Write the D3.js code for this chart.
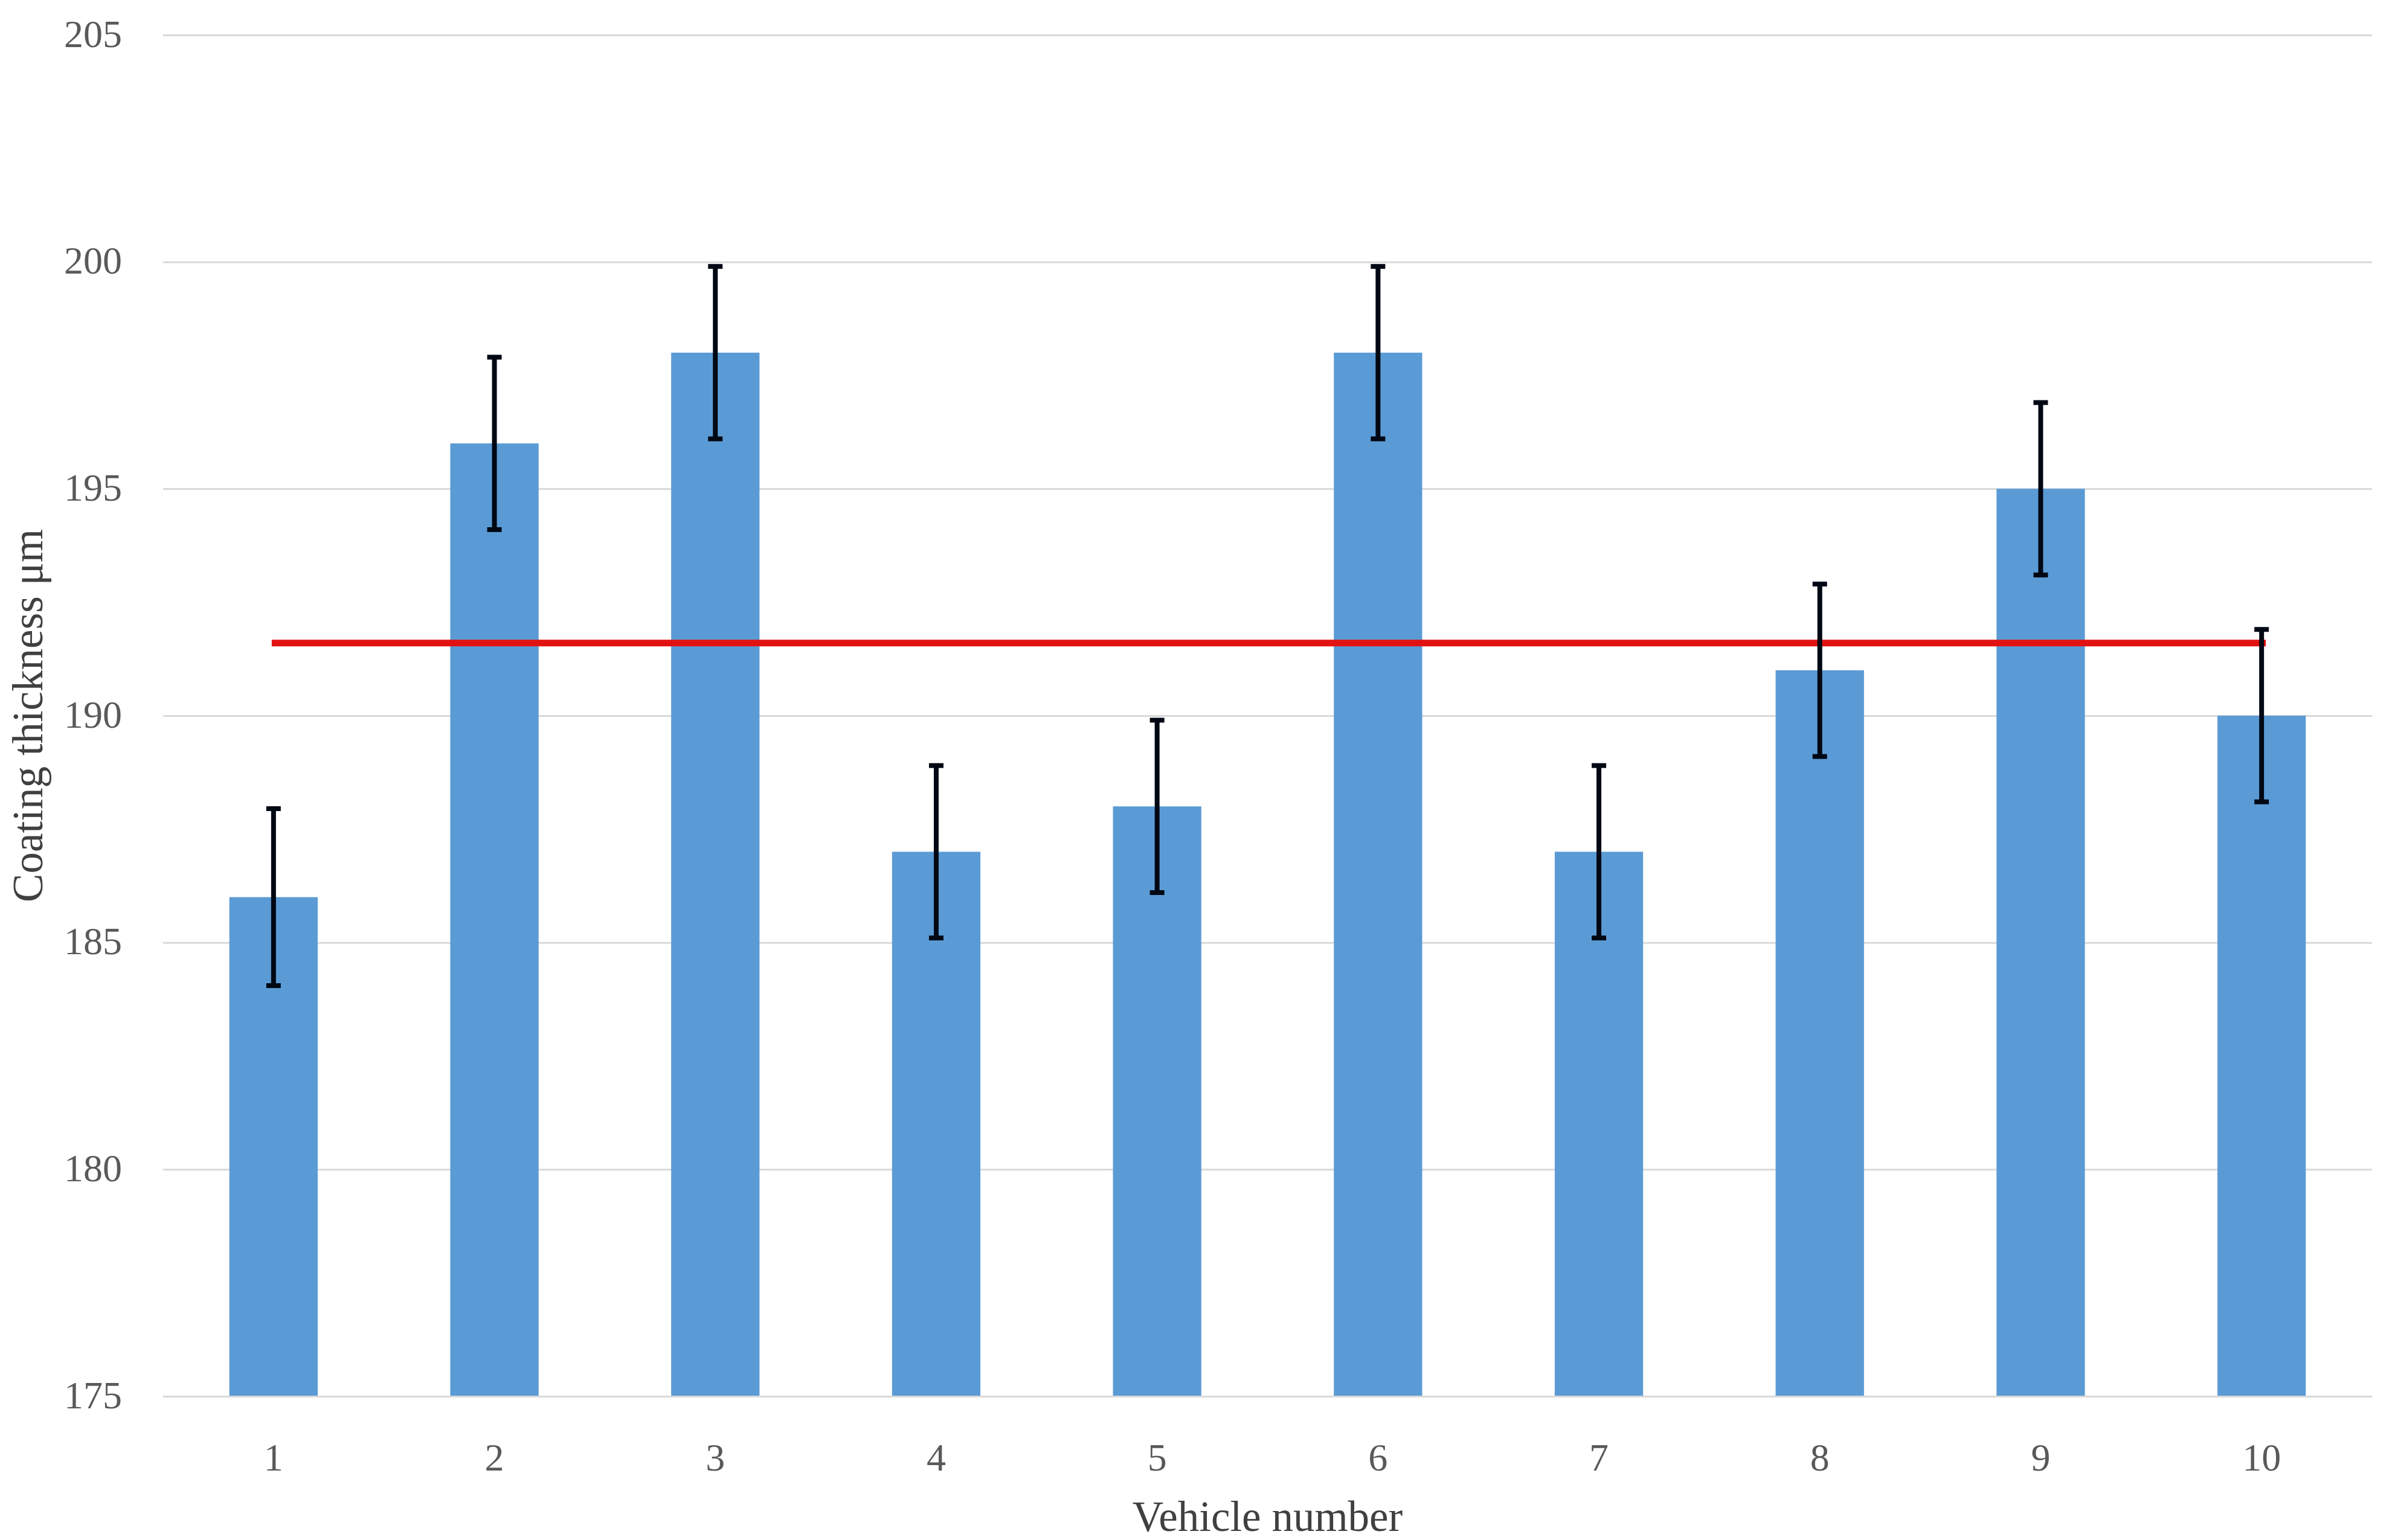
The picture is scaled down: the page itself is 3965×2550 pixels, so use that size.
<!DOCTYPE html>
<html><head><meta charset="utf-8">
<script src="https://cdn.jsdelivr.net/npm/d3@7"></script>
<style>html,body{margin:0;padding:0;background:#fff;}svg{display:block;}</style>
</head><body>
<script>
const categories = ["1","2","3","4","5","6","7","8","9","10"];
const values = [186,196,198,187,188,198,187,191,195,190];
const errors = [1.95,1.9,1.9,1.9,1.9,1.9,1.9,1.9,1.9,1.9];
const meanValue = [191.6];
const yTicks = [175,180,185,190,195,200,205];
const xTitle = "Vehicle number";
const yTitle = "Coating thickness μm";

const W = 3965, H = 2550;
const m = {left:270, right:W-3927, top:58, bottom:H-2312};
const font = "'Liberation Serif', 'Times New Roman', serif";

const svg = d3.select("body").append("svg").attr("width",W).attr("height",H);
const x = d3.scaleBand().domain(categories).range([m.left, W-m.right]).paddingInner(0.6).paddingOuter(0.3);
const y = d3.scaleLinear().domain([175,205]).range([H-m.bottom, m.top]);

// gridlines
const gy = svg.append("g").attr("transform",`translate(${m.left},0)`)
  .call(d3.axisLeft(y).tickValues(yTicks).tickSize(-(W-m.left-m.right)).tickFormat(d3.format("d")).tickPadding(68));
gy.select(".domain").remove();
gy.selectAll(".tick line").attr("stroke","#d9d9d9").attr("stroke-width",3);
gy.selectAll(".tick text").attr("font-family",font).attr("font-size",64).attr("fill","#595959").attr("dy","0.3em");

// bars
svg.append("g").selectAll("rect").data(values).join("rect")
  .attr("x",(d,i)=>x(categories[i])).attr("width",x.bandwidth())
  .attr("y",d=>y(d)).attr("height",d=>y(175)-y(d)).attr("fill","#5b9bd5");

// x axis
const gx = svg.append("g").attr("transform",`translate(0,${H-m.bottom})`)
  .call(d3.axisBottom(x).tickSize(0).tickPadding(78));
gx.select(".domain").attr("stroke","#d9d9d9").attr("stroke-width",3);
gx.selectAll(".tick text").attr("font-family",font).attr("font-size",64).attr("fill","#595959");

// mean line
svg.append("line")
  .attr("x1", x(categories[0])+x.bandwidth()/2-3)
  .attr("x2", x(categories[categories.length-1])+x.bandwidth()/2+7)
  .attr("y1", y(meanValue[0])).attr("y2", y(meanValue[0]))
  .attr("stroke","#e31212").attr("stroke-width",11);

// error bars
const eb = svg.append("g").attr("stroke","#000814").attr("stroke-width",8);
values.forEach((v,i)=>{
  const cx = x(categories[i])+x.bandwidth()/2;
  eb.append("line").attr("x1",cx).attr("x2",cx).attr("y1",y(v+errors[i])).attr("y2",y(v-errors[i]));
  eb.append("line").attr("x1",cx-12).attr("x2",cx+12).attr("y1",y(v+errors[i])).attr("y2",y(v+errors[i]));
  eb.append("line").attr("x1",cx-12).attr("x2",cx+12).attr("y1",y(v-errors[i])).attr("y2",y(v-errors[i]));
});

// titles
svg.append("text").attr("x",(m.left+W-m.right)/2).attr("y",2535).attr("text-anchor","middle")
  .attr("font-family",font).attr("font-size",71).attr("fill","#404040").text(xTitle);
svg.append("text").attr("transform",`translate(70,${(m.top+H-m.bottom)/2}) rotate(-90)`).attr("text-anchor","middle")
  .attr("font-family",font).attr("font-size",71).attr("fill","#404040").text(yTitle);
</script>
</body></html>
